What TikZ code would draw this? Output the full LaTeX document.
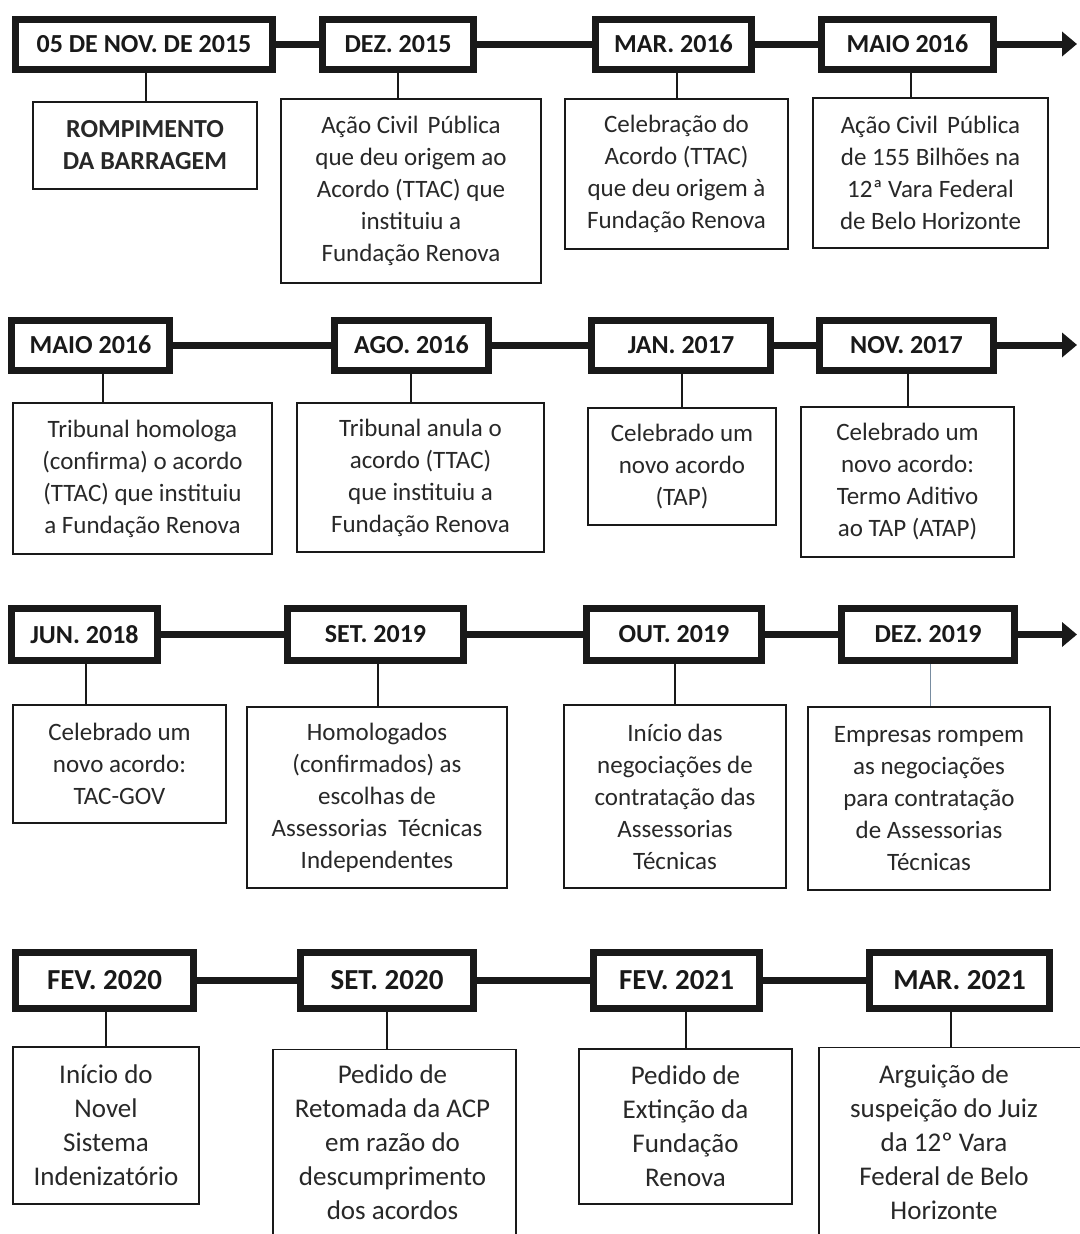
\documentclass[tikz,border=0pt]{standalone}
\usepackage{fontspec}
\setmainfont{Carlito}
\usetikzlibrary{arrows.meta}
\definecolor{ink}{RGB}{25,25,25}
\definecolor{txt}{RGB}{40,40,40}
\definecolor{slate}{RGB}{120,140,160}
\newcommand\hdrfnt{\fontsize{26}{31}\selectfont\bfseries}
\newcommand\hdrfntb{\fontsize{29}{34}\selectfont\bfseries}
\newcommand\bodyfnt{\fontsize{25}{32}\selectfont}
\newcommand\bodyfntb{\fontsize{27}{34}\selectfont}
\tikzset{
  hdr/.style={draw=ink, line width=7pt, text=ink, font=\hdrfnt, inner sep=0pt},
  hdrb/.style={hdr, font=\hdrfntb},
  body/.style={draw=ink, line width=1.3pt, text=txt, font=\bodyfnt, align=center, inner sep=0pt},
  bodyb/.style={body, font=\bodyfntb},
  btext/.style={text=txt, font=\bodyfntb, align=center, inner sep=0pt},
  link/.style={draw=ink, line width=7pt},
  tip/.style={link, -{Triangle[length=15pt,width=24pt]}},
  stem/.style={draw=ink, line width=1.3pt}
}
\begin{document}
\begin{tikzpicture}[x=1pt,y=-1pt]
\fill[white] (0,0) rectangle (1079,1234);
\useasboundingbox (0,0) rectangle (1079,1234);

% ---------------- Row 1 ----------------
\node[hdr, minimum width=257pt, minimum height=50pt] (h11) at (144,44) {05 DE NOV. DE 2015};
\node[hdr, minimum width=151pt, minimum height=50pt] (h12) at (398,44) {DEZ. 2015};
\node[hdr, minimum width=156pt, minimum height=50pt] (h13) at (673.5,44) {MAR. 2016};
\node[hdr, minimum width=172pt, minimum height=50pt] (h14) at (907.5,44) {MAIO 2016};
\coordinate (e1) at (1077,44);
\draw[link] (h11.east) -- (h12.west);
\draw[link] (h12.east) -- (h13.west);
\draw[link] (h13.east) -- (h14.west);
\draw[tip] (h14.east) -- (e1);

\node[body, font=\fontsize{26}{32}\selectfont\bfseries, minimum width=224pt, minimum height=87pt] (b11) at (145,145.5) {ROMPIMENTO\\DA BARRAGEM};
\node[body, minimum width=260pt, minimum height=184pt] (b12) at (411,191) {Ação Civil\hspace{9pt}Pública\\que deu origem ao\\Acordo (TTAC) que\\instituiu a\\Fundação Renova};
\node[body, minimum width=223pt, minimum height=150pt] (b13) at (676.5,174) {Celebração do\\Acordo (TTAC)\\que deu origem à\\Fundação Renova};
\node[body, minimum width=235pt, minimum height=150pt] (b14) at (930.5,173) {Ação Civil\hspace{9pt}Pública\\de 155 Bilhões na\\12ª Vara Federal\\de Belo Horizonte};
\coordinate (s11) at (146,0);
\coordinate (s12) at (398,0);
\coordinate (s13) at (677,0);
\coordinate (s14) at (911,0);
\draw[stem] (h11.south -| s11) -- (b11.north -| s11);
\draw[stem] (h12.south -| s12) -- (b12.north -| s12);
\draw[stem] (h13.south -| s13) -- (b13.north -| s13);
\draw[stem] (h14.south -| s14) -- (b14.north -| s14);

% ---------------- Row 2 ----------------
\node[hdr, minimum width=158pt, minimum height=50pt] (h21) at (90.5,345) {MAIO 2016};
\node[hdr, minimum width=154pt, minimum height=50pt] (h22) at (411.5,345) {AGO. 2016};
\node[hdr, minimum width=179pt, minimum height=50pt] (h23) at (681,345) {JAN. 2017};
\node[hdr, minimum width=174pt, minimum height=50pt] (h24) at (906.5,345) {NOV. 2017};
\coordinate (e2) at (1077,345);
\draw[link] (h21.east) -- (h22.west);
\draw[link] (h22.east) -- (h23.west);
\draw[link] (h23.east) -- (h24.west);
\draw[tip] (h24.east) -- (e2);

\node[body, minimum width=259pt, minimum height=151pt] (b21) at (142.5,478.5) {Tribunal homologa\\(confirma) o acordo\\(TTAC) que instituiu\\a Fundação Renova};
\node[body, minimum width=247pt, minimum height=149pt] (b22) at (420.5,477.5) {Tribunal anula o\\acordo (TTAC)\\que instituiu a\\Fundação Renova};
\node[body, minimum width=188pt, minimum height=117pt] (b23) at (682,466.5) {Celebrado um\\novo acordo\\(TAP)};
\node[body, minimum width=213pt, minimum height=150pt] (b24) at (907.5,482) {Celebrado um\\novo acordo:\\Termo Aditivo\\ao TAP (ATAP)};
\coordinate (s21) at (103,0);
\coordinate (s22) at (411,0);
\coordinate (s23) at (682,0);
\coordinate (s24) at (908,0);
\draw[stem] (h21.south -| s21) -- (b21.north -| s21);
\draw[stem] (h22.south -| s22) -- (b22.north -| s22);
\draw[stem] (h23.south -| s23) -- (b23.north -| s23);
\draw[stem] (h24.south -| s24) -- (b24.north -| s24);

% ---------------- Row 3 ----------------
\node[hdr, minimum width=146pt, minimum height=52pt] (h31) at (84.5,634.5) {JUN. 2018};
\node[hdr, minimum width=176pt, minimum height=52pt] (h32) at (375.5,634.5) {SET. 2019};
\node[hdr, minimum width=175pt, minimum height=52pt] (h33) at (674,634.5) {OUT. 2019};
\node[hdr, minimum width=173pt, minimum height=52pt] (h34) at (928,634.5) {DEZ. 2019};
\coordinate (e3) at (1077,634.5);
\draw[link] (h31.east) -- (h32.west);
\draw[link] (h32.east) -- (h33.west);
\draw[link] (h33.east) -- (h34.west);
\draw[tip] (h34.east) -- (e3);

\node[body, minimum width=213pt, minimum height=118pt] (b31) at (119.5,764) {Celebrado um\\novo acordo:\\TAC-GOV};
\node[body, minimum width=260pt, minimum height=181pt] (b32) at (377,797.5) {Homologados\\(confirmados) as\\escolhas de\\Assessorias\ \ Técnicas\\Independentes};
\node[body, minimum width=222pt, minimum height=183pt] (b33) at (675,796.5) {Início das\\negociações de\\contratação das\\Assessorias\\Técnicas};
\node[body, minimum width=242pt, minimum height=183pt] (b34) at (929,798.5) {Empresas rompem\\as negociações\\para contratação\\de Assessorias\\Técnicas};
\coordinate (s31) at (86,0);
\coordinate (s32) at (378,0);
\coordinate (s33) at (675,0);
\coordinate (s34) at (930,0);
\draw[stem] (h31.south -| s31) -- (b31.north -| s31);
\draw[stem] (h32.south -| s32) -- (b32.north -| s32);
\draw[stem] (h33.south -| s33) -- (b33.north -| s33);
\draw[stem, draw=slate, line width=1pt] (h34.south -| s34) -- (b34.north -| s34);

% ---------------- Row 4 ----------------
\node[hdrb, minimum width=178pt, minimum height=56pt] (h41) at (104.5,980.5) {FEV. 2020};
\node[hdrb, minimum width=173pt, minimum height=56pt] (h42) at (387,980.5) {SET. 2020};
\node[hdrb, minimum width=166pt, minimum height=56pt] (h43) at (676.5,980.5) {FEV. 2021};
\node[hdrb, minimum width=180pt, minimum height=56pt] (h44) at (959.5,980.5) {MAR. 2021};
\draw[link] (h41.east) -- (h42.west);
\draw[link] (h42.east) -- (h43.west);
\draw[link] (h43.east) -- (h44.west);

\node[bodyb, minimum width=186pt, minimum height=157pt] (b41) at (106,1125.5) {Início do\\Novel\\Sistema\\Indenizatório};
\node[bodyb, minimum width=243pt, minimum height=240pt, anchor=north] (b42) at (394.5,1049) {};
\node[btext] (t42) at (392.5,1142.5) {Pedido de\\Retomada da ACP\\em razão do\\descumprimento\\dos acordos};
\node[bodyb, minimum width=213pt, minimum height=155pt] (b43) at (685.5,1126.5) {Pedido de\\Extinção da\\Fundação\\Renova};
\node[bodyb, minimum width=266pt, minimum height=240pt, anchor=north] (b44) at (952,1047) {};
\node[btext] (t44) at (944,1142.5) {Arguição de\\suspeição do Juiz\\da 12º Vara\\Federal de Belo\\Horizonte};
\coordinate (s41) at (106,0);
\coordinate (s42) at (387,0);
\coordinate (s43) at (686,0);
\coordinate (s44) at (951,0);
\draw[stem] (h41.south -| s41) -- (b41.north -| s41);
\draw[stem] (h42.south -| s42) -- (b42.north -| s42);
\draw[stem] (h43.south -| s43) -- (b43.north -| s43);
\draw[stem] (h44.south -| s44) -- (b44.north -| s44);
\end{tikzpicture}
\end{document}
